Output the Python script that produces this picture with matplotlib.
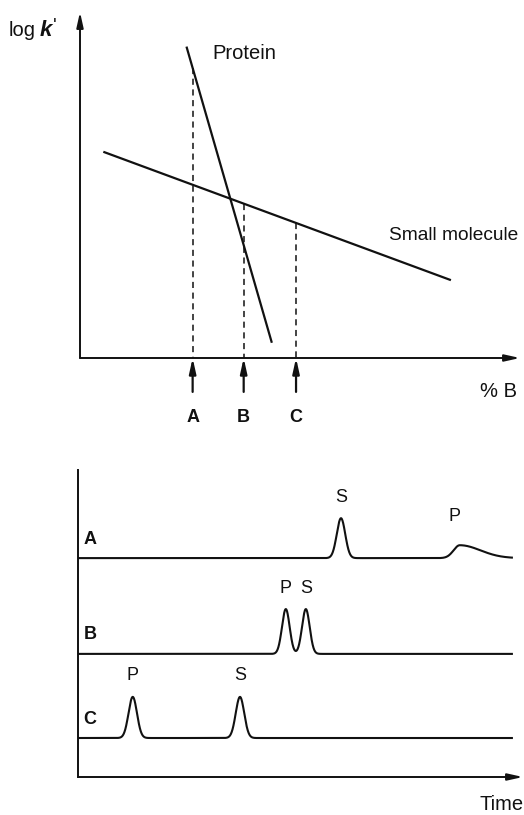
import matplotlib
matplotlib.use('Agg')
import matplotlib.pyplot as plt
import numpy as np

plt.rcParams['font.family'] = ['Liberation Sans', 'DejaVu Sans']

# upper panel: log k' against %B (arbitrary units, x 0-100, y 0-10)
protein_x = [24.2, 43.6]
protein_y = [9.00, 0.44]
small_x = [5.3, 84.3]
small_y = [5.96, 2.25]
marker_names = ['A', 'B', 'C']
marker_pos = [25.6, 37.2, 49.1]
marker_line = ['protein', 'small', 'small']

# lower panel: chromatograms (time 0-100, signal 0-100)
trace_names = ['A', 'B', 'C']
trace_base = [71.3, 40.1, 12.7]
trace_end = 97.5
# peaks per trace: (label, centre, height, left sigma, right sigma)
peaks = {
    'A': [('S', 59.1, 13.0, 0.95, 0.95), ('P', 85.8, 4.2, 1.4, 4.6)],
    'B': [('P', 46.7, 14.6, 0.86, 0.86), ('S', 51.2, 14.6, 0.86, 0.86)],
    'C': [('P', 12.3, 13.4, 0.95, 0.95), ('S', 36.4, 13.4, 0.95, 0.95)],
}

W, H = 524, 815
fig = plt.figure(figsize=(W / 100, H / 100), dpi=100)

ink = '#111111'
arrow_kw = dict(arrowstyle='-|>,head_length=0.9,head_width=0.2', color=ink, lw=1.4,
                shrinkA=0, shrinkB=0)

# ---------- top plot ----------
ax1 = fig.add_axes([80 / W, (H - 358) / H, (520 - 80) / W, (358 - 12) / H])
ax1.set_xlim(0, 100)
ax1.set_ylim(0, 10)
ax1.axis('off')
ax1.annotate('', xy=(1, 0), xytext=(0, 0), xycoords='axes fraction', arrowprops=arrow_kw)
ax1.annotate('', xy=(0, 1), xytext=(0, 0), xycoords='axes fraction', arrowprops=arrow_kw)

ax1.plot(protein_x, protein_y, color=ink, lw=1.6, solid_capstyle='butt')
ax1.plot(small_x, small_y, color=ink, lw=1.6, solid_capstyle='butt')

for name, xm, which in zip(marker_names, marker_pos, marker_line):
    if which == 'protein':
        ytop = np.interp(xm, protein_x, protein_y)
    else:
        ytop = np.interp(xm, small_x, small_y)
    ax1.plot([xm, xm], [ytop, 0], color=ink, lw=1.1, ls=(0, (4, 3)))
    ax1.annotate('', xy=(xm, 0), xytext=(xm, -0.98), xycoords='data',
                 arrowprops=dict(arrowstyle='-|>,head_length=0.9,head_width=0.2',
                                 color=ink, lw=1.6, shrinkA=0, shrinkB=0),
                 annotation_clip=False)
    ax1.text(xm, -1.73, name, ha='center', va='center', fontsize=13,
             fontweight='bold', color=ink, clip_on=False)

ax1.text(37.3, 8.81, 'Protein', ha='center', va='center', fontsize=14.5, color=ink)
ax1.text(70.2, 3.55, 'Small molecule', ha='left', va='center', fontsize=13.8, color=ink)
ax1.text(95.2, -0.98, '% B', ha='center', va='center', fontsize=14.5, color=ink,
         clip_on=False)

# y-axis title: "log" upright, k bold italic, then the prime
fig.text(9 / W, 1 - 30 / H, 'log', ha='left', va='center', fontsize=14.5, color=ink)
fig.text(40 / W, 1 - 30 / H, 'k', ha='left', va='center', fontsize=16,
         fontweight='bold', fontstyle='italic', color=ink)
fig.text(53 / W, 1 - 27 / H, "'", ha='left', va='center', fontsize=14, color=ink)

# ---------- bottom plot ----------
ax2 = fig.add_axes([78 / W, (H - 777) / H, (523 - 78) / W, (777 - 470) / H])
ax2.set_xlim(0, 100)
ax2.set_ylim(0, 100)
ax2.axis('off')
ax2.annotate('', xy=(1, 0), xytext=(0, 0), xycoords='axes fraction', arrowprops=arrow_kw)
ax2.plot([0, 0], [0, 100], color=ink, lw=1.4, clip_on=False)

t = np.linspace(0, trace_end, 3000)
for name, base in zip(trace_names, trace_base):
    sig = np.full_like(t, base)
    for lab, c, h, sl, sr in peaks[name]:
        s = np.where(t < c, sl, sr)
        sig += h * np.exp(-0.5 * ((t - c) / s) ** 2)
    ax2.plot(t, sig, color=ink, lw=1.5)
    for lab, c, h, sl, sr in peaks[name]:
        extra = 2.5 if sr > sl else 0
        ax2.text(c - extra / 2, base + h + 6.8 + extra, lab, ha='center', va='center',
                 fontsize=13, color=ink)
    ax2.text(2.7, base + 3.4, name, ha='center', va='bottom', fontsize=13,
             fontweight='bold', color=ink)

ax2.text(95.1, -9.1, 'Time', ha='center', va='center', fontsize=14.5, color=ink,
         clip_on=False)

fig.savefig('out.png', dpi=100, facecolor='white')
